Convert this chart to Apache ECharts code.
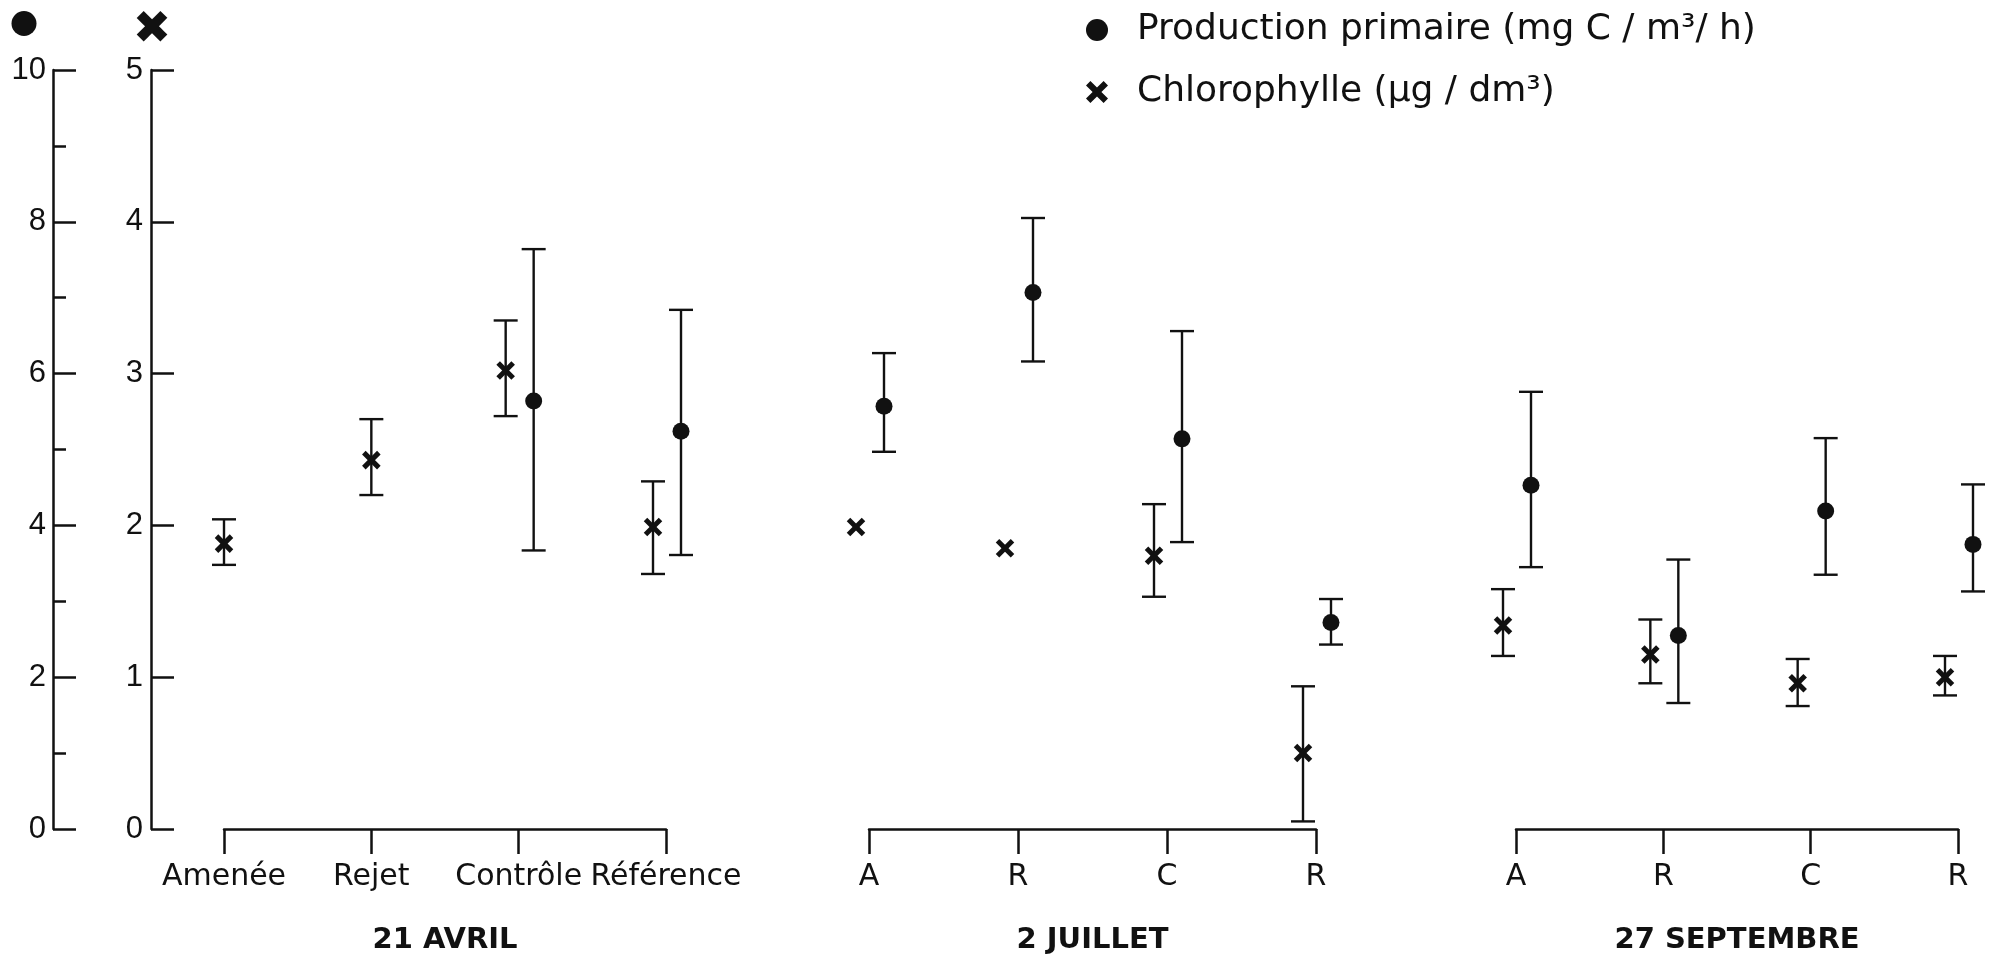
<!DOCTYPE html>
<html>
<head>
<meta charset="utf-8">
<script src="https://cdn.jsdelivr.net/npm/echarts@6/dist/echarts.min.js"></script>
<style>
html,body{margin:0;padding:0;background:#fff;}
#chart{width:2004px;height:960px;}
</style>
</head>
<body>
<div id="chart"></div>
<script>
// ---------- data ----------
const groupNames = ['21 AVRIL', '2 JUILLET', '27 SEPTEMBRE'];
const catAvril = ['Amenée', 'Rejet', 'Contrôle', 'Référence'];
const catJuillet = ['A', 'R', 'C', 'R'];
const catSeptembre = ['A', 'R', 'C', 'R'];

// Chlorophylle (µg / dm3): mean, low, high
const chlAvril = [1.88, 2.43, 3.02, 1.99];
const chlAvrilLow = [1.74, 2.20, 2.72, 1.68];
const chlAvrilHigh = [2.04, 2.70, 3.35, 2.29];
const chlJuillet = [1.99, 1.85, 1.80, 0.50];
const chlJuilletLow = [null, null, 1.53, 0.05];
const chlJuilletHigh = [null, null, 2.14, 0.94];
const chlSeptembre = [1.34, 1.15, 0.96, 1.00];
const chlSeptembreLow = [1.14, 0.96, 0.81, 0.88];
const chlSeptembreHigh = [1.58, 1.38, 1.12, 1.14];

// Production primaire (mg C / m3 / h): mean, low, high
const prodAvril = [null, null, 5.64, 5.24];
const prodAvrilLow = [null, null, 3.67, 3.61];
const prodAvrilHigh = [null, null, 7.64, 6.84];
const prodJuillet = [5.57, 7.07, 5.14, 2.72];
const prodJuilletLow = [4.97, 6.16, 3.78, 2.43];
const prodJuilletHigh = [6.27, 8.05, 6.56, 3.03];
const prodSeptembre = [4.53, 2.55, 4.19, 3.75];
const prodSeptembreLow = [3.45, 1.66, 3.35, 3.13];
const prodSeptembreHigh = [5.76, 3.55, 5.15, 4.54];

const prodAxisTicks = [0, 2, 4, 6, 8, 10];
const chlAxisTicks = [0, 1, 2, 3, 4, 5];

const NAME_PROD = 'Production primaire (mg C / m³/ h)';
const NAME_CHL = 'Chlorophylle (µg / dm³)';

// ---------- layout / style ----------
const INK = '#111';
const X_ICON = 'path://M0,4 L4,0 L10,6 L16,0 L20,4 L14,10 L20,16 L16,20 L10,14 L4,20 L0,16 L6,10 Z';
const grids = [
  { left: 224, width: 442 },
  { left: 869, width: 447 },
  { left: 1516, width: 442 }
];
const GRID_TOP = 70, GRID_BOTTOM = 127;

const groups = [
  { cats: catAvril, chl: [chlAvril, chlAvrilLow, chlAvrilHigh], prod: [prodAvril, prodAvrilLow, prodAvrilHigh] },
  { cats: catJuillet, chl: [chlJuillet, chlJuilletLow, chlJuilletHigh], prod: [prodJuillet, prodJuilletLow, prodJuilletHigh] },
  { cats: catSeptembre, chl: [chlSeptembre, chlSeptembreLow, chlSeptembreHigh], prod: [prodSeptembre, prodSeptembreLow, prodSeptembreHigh] }
];

function errorBar(api, cx, low, high, lw) {
  const out = [];
  if (low == null || high == null || isNaN(low) || isNaN(high)) return out;
  const pLow = api.coord([api.value(0), low]);
  const pHigh = api.coord([api.value(0), high]);
  const half = 12;
  const st = { stroke: INK, lineWidth: lw };
  out.push({ type: 'line', shape: { x1: cx, y1: pLow[1], x2: cx, y2: pHigh[1] }, style: st });
  out.push({ type: 'line', shape: { x1: cx - half, y1: pLow[1], x2: cx + half, y2: pLow[1] }, style: st });
  out.push({ type: 'line', shape: { x1: cx - half, y1: pHigh[1], x2: cx + half, y2: pHigh[1] }, style: st });
  return out;
}

function renderChl(params, api) {
  const p = api.coord([api.value(0), api.value(1)]);
  const partner = api.value(4);
  const cx = p[0] + (partner ? -13 : 0);
  const children = errorBar(api, cx, api.value(2), api.value(3), 2.4);
  const s = 7.5;
  const st = { stroke: INK, lineWidth: 5 };
  children.push({ type: 'line', shape: { x1: cx - s, y1: p[1] - s, x2: cx + s, y2: p[1] + s }, style: st });
  children.push({ type: 'line', shape: { x1: cx - s, y1: p[1] + s, x2: cx + s, y2: p[1] - s }, style: st });
  return { type: 'group', children };
}

function renderProd(params, api) {
  const p = api.coord([api.value(0), api.value(1)]);
  const cx = p[0] + 15;
  const children = errorBar(api, cx, api.value(2), api.value(3), 2.4);
  children.push({ type: 'circle', shape: { cx: cx, cy: p[1], r: 8.5 }, style: { fill: INK } });
  return { type: 'group', children };
}

const gridOpt = grids.map(g => ({ left: g.left, width: g.width, top: GRID_TOP, bottom: GRID_BOTTOM, containLabel: false }));

const xAxes = groups.map((g, i) => ({
  type: 'category',
  gridIndex: i,
  data: g.cats,
  boundaryGap: false,
  axisLine: { show: true, lineStyle: { color: INK, width: 2.5 } },
  axisTick: { show: true, inside: false, length: 25, alignWithLabel: true, lineStyle: { color: INK, width: 2.5 } },
  axisLabel: { show: true, margin: 33, color: INK, fontFamily: 'DejaVu Sans', fontSize: 30, interval: 0 },
  splitLine: { show: false },
  name: groupNames[i],
  nameLocation: 'middle',
  nameGap: 97,
  nameTextStyle: { color: INK, fontFamily: 'DejaVu Sans', fontWeight: 'bold', fontSize: 29 }
}));

const yAxes = [];
groups.forEach((g, i) => {
  const visible = i === 0;
  yAxes.push({
    type: 'value', gridIndex: i, min: 0, max: 10, interval: 2,
    show: visible,
    position: 'left', offset: visible ? grids[0].left - 53 : 0,
    axisLine: { show: true, lineStyle: { color: INK, width: 2.5 } },
    axisTick: { show: true, inside: true, length: 23, lineStyle: { color: INK, width: 2.5 } },
    minorTick: { show: true, splitNumber: 2, length: 13, lineStyle: { color: INK, width: 2.5 } },
    axisLabel: {
      show: true, margin: 7, color: INK, fontFamily: 'Liberation Sans', fontSize: 31,
      formatter: v => (prodAxisTicks.indexOf(v) >= 0 ? String(v) : '')
    },
    splitLine: { show: false },
    name: visible ? '{d|}' : '',
    nameLocation: 'end',
    nameGap: 34,
    nameTextStyle: {
      padding: [0, 58, 0, 0],
      rich: { d: { width: 25, height: 25, borderRadius: 12.5, backgroundColor: INK } }
    }
  });
  yAxes.push({
    type: 'value', gridIndex: i, min: 0, max: 5, interval: 1,
    show: visible,
    position: 'left', offset: visible ? grids[0].left - 151 : 0,
    axisLine: { show: true, lineStyle: { color: INK, width: 2.5 } },
    axisTick: { show: true, inside: true, length: 23, lineStyle: { color: INK, width: 2.5 } },
    axisLabel: {
      show: true, margin: 8, color: INK, fontFamily: 'Liberation Sans', fontSize: 31,
      formatter: v => (chlAxisTicks.indexOf(v) >= 0 ? String(v) : '')
    },
    splitLine: { show: false },
    name: visible ? '✖' : '',
    nameLocation: 'end',
    nameGap: 16,
    nameTextStyle: { color: INK, fontFamily: 'DejaVu Sans', fontSize: 46, lineHeight: 46, padding: [0, 0, 0, 2] }
  });
});

const series = [];
groups.forEach((g, i) => {
  const [m, lo, hi] = g.chl;
  const [pm, plo, phi] = g.prod;
  series.push({
    type: 'custom', name: NAME_CHL,
    xAxisIndex: i, yAxisIndex: i * 2 + 1,
    itemStyle: { color: INK },
    renderItem: renderChl,
    encode: { x: 0, y: 1 },
    data: m.map((v, k) => [k, v, lo[k] == null ? NaN : lo[k], hi[k] == null ? NaN : hi[k], pm[k] == null ? 0 : 1])
  });
  series.push({
    type: 'custom', name: NAME_PROD,
    xAxisIndex: i, yAxisIndex: i * 2,
    itemStyle: { color: INK },
    renderItem: renderProd,
    encode: { x: 0, y: 1 },
    data: pm.map((v, k) => (v == null ? null : [k, v, plo[k], phi[k]])).filter(d => d)
  });
});

const chart = echarts.init(document.getElementById('chart'), null, { renderer: 'canvas' });
chart.setOption({
  animation: false,
  backgroundColor: '#fff',
  grid: gridOpt,
  xAxis: xAxes,
  yAxis: yAxes,
  legend: {
    orient: 'vertical',
    left: 1081,
    top: 5,
    itemWidth: 22,
    itemHeight: 22,
    itemGap: 22,
    selectedMode: false,
    textStyle: { color: INK, fontFamily: 'DejaVu Sans', fontSize: 36, lineHeight: 40, padding: [0, 0, 0, 24] },
    data: [
      { name: NAME_PROD, icon: 'circle' },
      { name: NAME_CHL, icon: X_ICON }
    ]
  },
  series: series
});
</script>
</body>
</html>
